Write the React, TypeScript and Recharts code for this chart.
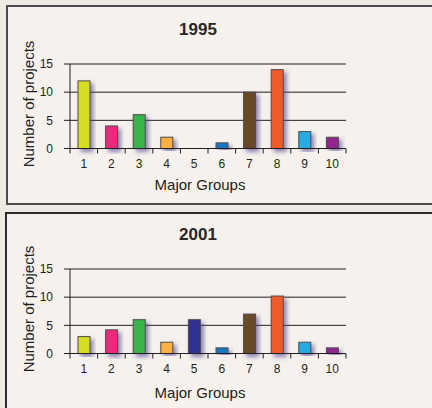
import { BarChart, Bar, XAxis, YAxis, CartesianGrid, ReferenceLine } from "recharts";

const groups = ["1", "2", "3", "4", "5", "6", "7", "8", "9", "10"];
const projects1995 = [12, 4, 6, 2, 0, 1, 10, 14, 3, 2];
const projects2001 = [3, 4.2, 6, 2, 6, 1, 7, 10.2, 2, 1];
const yTicks = [0, 5, 10, 15];
const groupColors = [
  "#d5de24",
  "#ec297b",
  "#39b54a",
  "#fbb040",
  "#2e3192",
  "#1c75bc",
  "#6b4626",
  "#f15a29",
  "#27aae1",
  "#92278f",
];

const INK = "#231f20";
const FONT = "'Liberation Sans', Arial, sans-serif";
const PLOT_LEFT = 70;
const PLOT_W = 276;
const BAND = PLOT_W / groups.length;

function GroupTick(props: any) {
  const { x, y, index } = props;
  const left = x - BAND / 2;
  return (
    <g>
      <line x1={left} x2={left} y1={y} y2={y + 5} stroke={INK} strokeWidth={1} />
      {index === groups.length - 1 && (
        <line x1={x + BAND / 2} x2={x + BAND / 2} y1={y} y2={y + 5} stroke={INK} strokeWidth={1} />
      )}
      <text x={x} y={y + 19} textAnchor="middle" fontSize={12} fill={INK} fontFamily={FONT}>
        {props.payload.value}
      </text>
    </g>
  );
}

function Panel({
  id,
  title,
  values,
  top,
  grayTop,
  labelY,
}: {
  id: string;
  title: string;
  values: number[];
  top: number;
  grayTop?: boolean;
  labelY: number;
}) {
  const data = groups.map((g, i) => ({ group: g, count: values[i] }));
  return (
    <>
      <div
        style={{
          position: "absolute",
          left: 198,
          top: top + 30,
          transform: "translate(-50%, -50%)",
          fontSize: 17,
          fontWeight: 700,
          color: "#2b2728",
        }}
      >
        {title}
      </div>
      <div
        style={{
          position: "absolute",
          left: 28,
          top: top + 104,
          transform: "translate(-50%, -50%) rotate(-90deg)",
          fontSize: 15,
          whiteSpace: "nowrap",
          color: INK,
        }}
      >
        Number of projects
      </div>
      <div
        style={{
          position: "absolute",
          left: 200,
          top: top + labelY,
          transform: "translate(-50%, -50%)",
          fontSize: 15,
          whiteSpace: "nowrap",
          color: INK,
        }}
      >
        Major Groups
      </div>
      <div style={{ position: "absolute", left: 0, top }}>
        <BarChart
          width={432}
          height={200}
          data={data}
          margin={{ top: 64, right: 432 - PLOT_LEFT - PLOT_W, bottom: 0, left: 0 }}
        >
          <defs>
            <filter id={id} x="-50%" y="-20%" width="200%" height="140%">
              <feDropShadow dx={3} dy={3} stdDeviation={2.2} floodColor="#4b3a8c" floodOpacity={0.6} />
            </filter>
          </defs>
          <CartesianGrid vertical={false} stroke={INK} strokeWidth={1} strokeDasharray="" />
          {grayTop && <ReferenceLine y={15} stroke="#8c8c8c" strokeWidth={1.5} />}
          <YAxis
            width={PLOT_LEFT}
            domain={[0, 15]}
            ticks={yTicks}
            tickSize={6}
            tickMargin={11}
            axisLine={{ stroke: INK }}
            tickLine={{ stroke: INK }}
            tick={{ fontSize: 12, fill: INK, fontFamily: FONT }}
          />
          <XAxis
            dataKey="group"
            height={51.5}
            axisLine={{ stroke: INK }}
            tickLine={false}
            tickSize={0}
            tickMargin={0}
            interval={0}
            tick={<GroupTick />}
          />
          <Bar
            dataKey="count"
            barSize={12}
            isAnimationActive={false}
            shape={(p: any) => (
              <rect
                x={p.x}
                y={p.y}
                width={p.width}
                height={p.height}
                fill={groupColors[p.index]}
                stroke="#4d4d4d"
                strokeWidth={1}
                filter={`url(#${id})`}
              />
            )}
          />
        </BarChart>
      </div>
    </>
  );
}

export default function App() {
  return (
    <div
      style={{
        position: "fixed",
        left: 0,
        top: 0,
        width: 432,
        height: 408,
        overflow: "hidden",
        background: "#efe9e4",
        fontFamily: FONT,
      }}
    >
      <div
        style={{
          position: "absolute",
          left: 6,
          top: 5,
          width: 440,
          height: 200,
          boxSizing: "border-box",
          borderStyle: "solid",
          borderColor: "#4a4a4a",
          borderWidth: 2,
          background: "#f6f1ec",
        }}
      />
      <div
        style={{
          position: "absolute",
          left: 5,
          top: 212,
          width: 440,
          height: 210,
          boxSizing: "border-box",
          borderStyle: "solid",
          borderColor: "#2a2a2a",
          borderWidth: 2,
          background: "#f6f1ec",
        }}
      />
      <Panel id="shadow1995" title="1995" values={projects1995} top={0} labelY={184} />
      <Panel id="shadow2001" title="2001" values={projects2001} top={205} labelY={187} grayTop />
    </div>
  );
}
